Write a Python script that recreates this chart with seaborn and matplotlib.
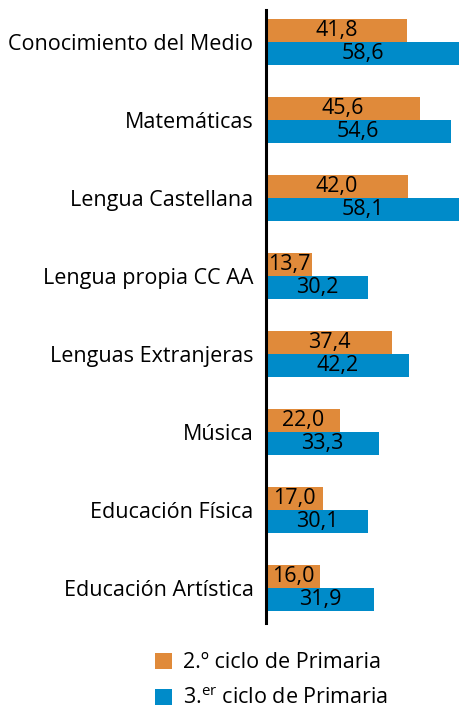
import pandas as pd
import matplotlib.pyplot as plt
import seaborn as sns

categories = ["Conocimiento del Medio", "Matemáticas", "Lengua Castellana",
              "Lengua propia CC AA", "Lenguas Extranjeras", "Música",
              "Educación Física", "Educación Artística"]
ciclo2 = [41.8, 45.6, 42.0, 13.7, 37.4, 22.0, 17.0, 16.0]
ciclo3 = [58.6, 54.6, 58.1, 30.2, 42.2, 33.3, 30.1, 31.9]
series = ["2.º ciclo de Primaria", "3.$^{\\mathrm{er}}$ ciclo de Primaria"]
colors = ["#E08A3A", "#008BC9"]

df = pd.DataFrame({
    "asignatura": categories * 2,
    "valor": ciclo2 + ciclo3,
    "ciclo": [series[0]] * len(categories) + [series[1]] * len(categories),
})

sns.set_style("white")
plt.rcParams["font.family"] = ["Open Sans", "DejaVu Sans"]
plt.rcParams["mathtext.fontset"] = "custom"
plt.rcParams["mathtext.rm"] = "Open Sans"
plt.rcParams["text.color"] = "black"
plt.rcParams["ytick.color"] = "black"

fs = 15.5

fig = plt.figure(figsize=(4.59, 7.10), dpi=100)
ax = fig.add_axes([266 / 459, 1 - 623 / 710, 1 - 266 / 459, (623 - 10) / 710])

sns.barplot(data=df, y="asignatura", x="valor", hue="ciclo", orient="h",
            palette=colors, width=0.58, saturation=1, ax=ax, errorbar=None,
            linewidth=0)

for cont in ax.containers:
    labs = [f"{b.get_width():.1f}".replace(".", ",") for b in cont]
    ax.bar_label(cont, labels=labs, label_type="center", fontsize=fs, color="black")

ax.set_xlim(0, 57.1)
ax.set_ylim(7.45, -0.41)
ax.set_xlabel("")
ax.set_ylabel("")
ax.set_xticks([])
ax.tick_params(axis="y", length=0, pad=9, labelsize=fs, labelcolor="black")
for s in ["top", "right", "bottom"]:
    ax.spines[s].set_visible(False)
ax.spines["left"].set_color("black")
ax.spines["left"].set_linewidth(2.2)

sns.move_legend(ax, loc="lower left", bbox_to_anchor=(146 / 459, -8 / 710),
                bbox_transform=fig.transFigure, frameon=False, title=None,
                fontsize=fs, handlelength=0.8, handleheight=0.8,
                handletextpad=0.5, labelspacing=0.7, borderaxespad=0)
for t in ax.get_legend().get_texts():
    t.set_color("black")

fig.savefig("out.png", dpi=100)
